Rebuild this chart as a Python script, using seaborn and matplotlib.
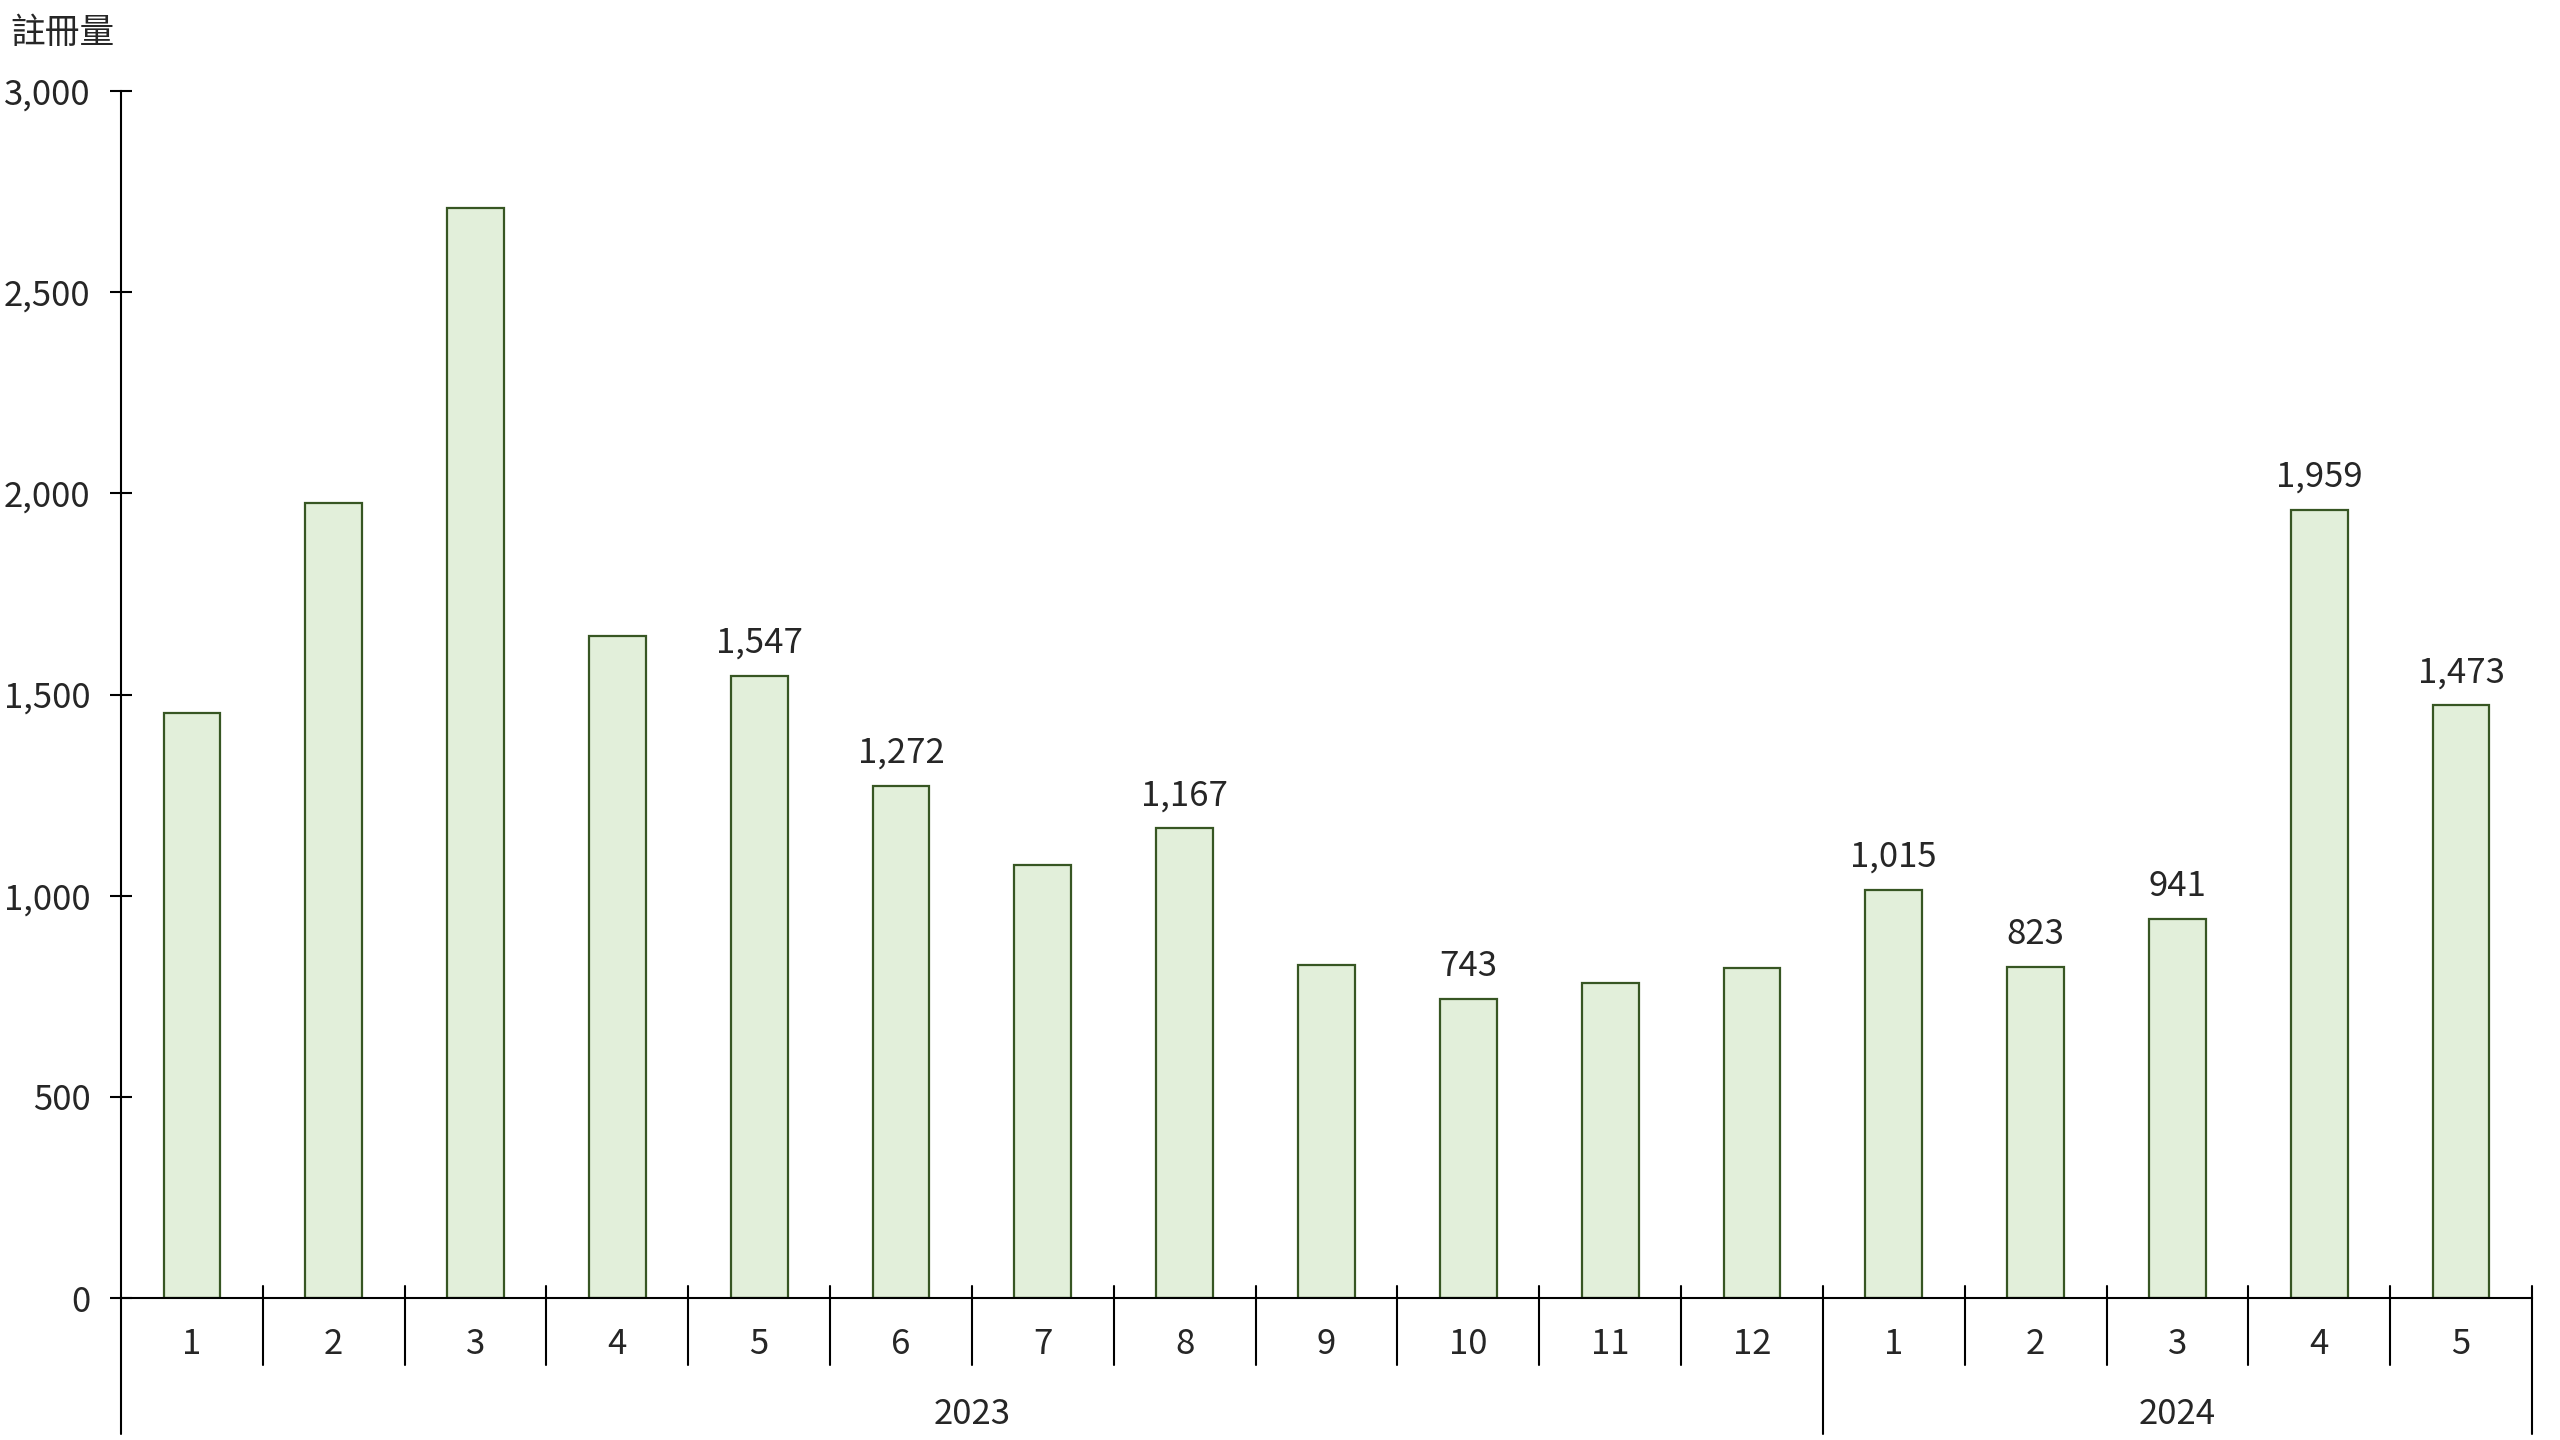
import numpy as np
import pandas as pd
import matplotlib
matplotlib.use("Agg")
import matplotlib.pyplot as plt
import matplotlib.transforms as mtransforms
import seaborn as sns

# ---------------------------------------------------
# DATA
# ---------------------------------------------------

years = ["2023"] * 12 + ["2024"] * 5
months = [1, 2, 3, 4, 5, 6, 7, 8, 9, 10, 11, 12, 1, 2, 3, 4, 5]
counts = [1453, 1977, 2708, 1645, 1547, 1272, 1076, 1167, 828,
          743, 783, 821, 1015, 823, 941, 1959, 1473]
# which bars carry a value label
labelled = [False, False, False, False, True, True, False, True, False,
            True, False, False, True, True, True, True, True]

y_label = "註冊量"
y_ticks = [0, 500, 1000, 1500, 2000, 2500, 3000]

df = pd.DataFrame({
    "period": [f"{y}-{m}" for y, m in zip(years, months)],
    "year": years,
    "month": months,
    "count": counts,
})

# ---------------------------------------------------
# STYLE
# ---------------------------------------------------

sns.set_style("white")
plt.rcParams["font.family"] = ["Noto Sans CJK TC", "DejaVu Sans"]

fill = "#E2EFDA"
edge = "#375623"
fs = 25

fig = plt.figure(figsize=(25.6, 14.4), dpi=100)
ax = fig.add_axes([121 / 2560, 1 - 1298 / 1440, (2532 - 121) / 2560, (1298 - 91) / 1440])

sns.barplot(
    data=df,
    x="period",
    y="count",
    color=fill,
    saturation=1,
    width=0.4,
    edgecolor=edge,
    linewidth=1.6,
    ax=ax,
)

ax.set_xlim(-0.5, len(df) - 0.5)
ax.set_ylim(0, 3000)
ax.set_yticks(y_ticks)
ax.set_yticklabels([f"{v:,}" for v in y_ticks], fontsize=fs)
ax.set_xticks(range(len(df)))
ax.set_xticklabels([str(m) for m in df["month"]], fontsize=fs)
ax.set_xlabel("")
ax.set_ylabel("")

for side in ["top", "right"]:
    ax.spines[side].set_visible(False)
for side in ["left", "bottom"]:
    ax.spines[side].set_color("black")
    ax.spines[side].set_linewidth(1.5)

ax.tick_params(axis="y", direction="inout", length=16, width=1.5,
               color="black", pad=14, left=True)
ax.tick_params(axis="x", length=0, pad=21)

# ---------------------------------------------------
# VALUE LABELS
# ---------------------------------------------------

for i, (v, show) in enumerate(zip(df["count"], labelled)):
    if show:
        ax.annotate(f"{v:,}", (i, v), xytext=(0, 11), textcoords="offset points",
                    ha="center", va="bottom", fontsize=fs)

# ---------------------------------------------------
# MULTI-LEVEL CATEGORY AXIS
# ---------------------------------------------------

trans = mtransforms.blended_transform_factory(ax.transData, ax.transAxes)
axis_h = 1298 - 91
up = 12 / axis_h
month_low = -67 / axis_h
year_low = -136 / axis_h

year_starts = [i for i in range(len(df)) if i == 0 or years[i] != years[i - 1]]
year_bounds = [s - 0.5 for s in year_starts] + [len(df) - 0.5]

for b in np.arange(len(df) + 1) - 0.5:
    if b in year_bounds:
        lo = year_low
    else:
        lo = month_low
    top = 0 if b == -0.5 else up
    ax.plot([b, b], [lo, top], color="black", lw=1.5, transform=trans, clip_on=False)

for k, s in enumerate(year_starts):
    e = year_bounds[k + 1]
    ax.text((s - 0.5 + e) / 2, -117 / axis_h, years[s], transform=trans,
            ha="center", va="center", fontsize=fs)

fig.text(10 / 2560, 1 - 33 / 1440, y_label, ha="left", va="center", fontsize=fs)

fig.savefig("out.png", dpi=100, facecolor="white")
